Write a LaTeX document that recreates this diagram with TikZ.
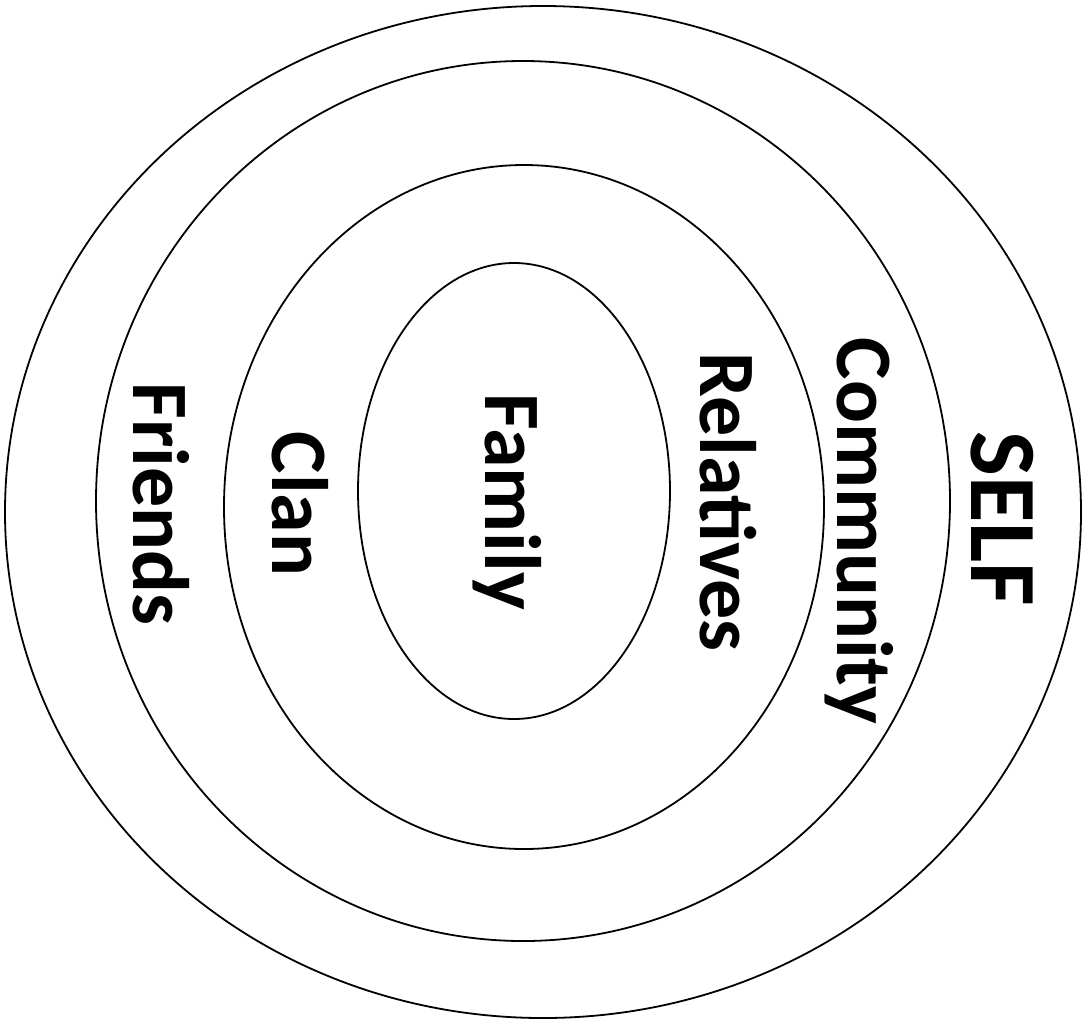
\documentclass[tikz,border=0pt]{standalone}
\usepackage{fontspec}
\setmainfont{Carlito}
\usetikzlibrary{shapes.geometric}
\begin{document}
\begin{tikzpicture}[x=1pt,y=-1pt,
  ring/.style={ellipse,draw=black,line width=1.8pt,inner sep=0pt},
  lbl/.style={rotate=-90,anchor=base,inner sep=0pt,font=\fontsize{80}{82}\selectfont\bfseries},
  biglbl/.style={rotate=-90,anchor=base,inner sep=0pt,font=\fontsize{95}{97}\selectfont\bfseries}]
\useasboundingbox[fill=white] (0,0) rectangle (1083,1021);
\node[ring,minimum width=1076pt,minimum height=1012pt] (outer) at (543,512) {};
\node[ring,minimum width=854pt,minimum height=880pt] (second) at (523,501) {};
\node[ring,minimum width=600pt,minimum height=684pt] (third) at (524,507) {};
\node[ring,minimum width=312pt,minimum height=456pt] (inner) at (514,491) {};
\node[biglbl] (self) at (971,519) {SELF};
\node[lbl] (community) at (837,531) {Community};
\node[lbl] (relatives) at (700,502) {Relatives};
\node[lbl] (family) at (485,502) {Family};
\node[lbl] (clan) at (272,504) {Clan};
\node[lbl] (friends) at (133,504) {Friends};
\end{tikzpicture}
\end{document}
